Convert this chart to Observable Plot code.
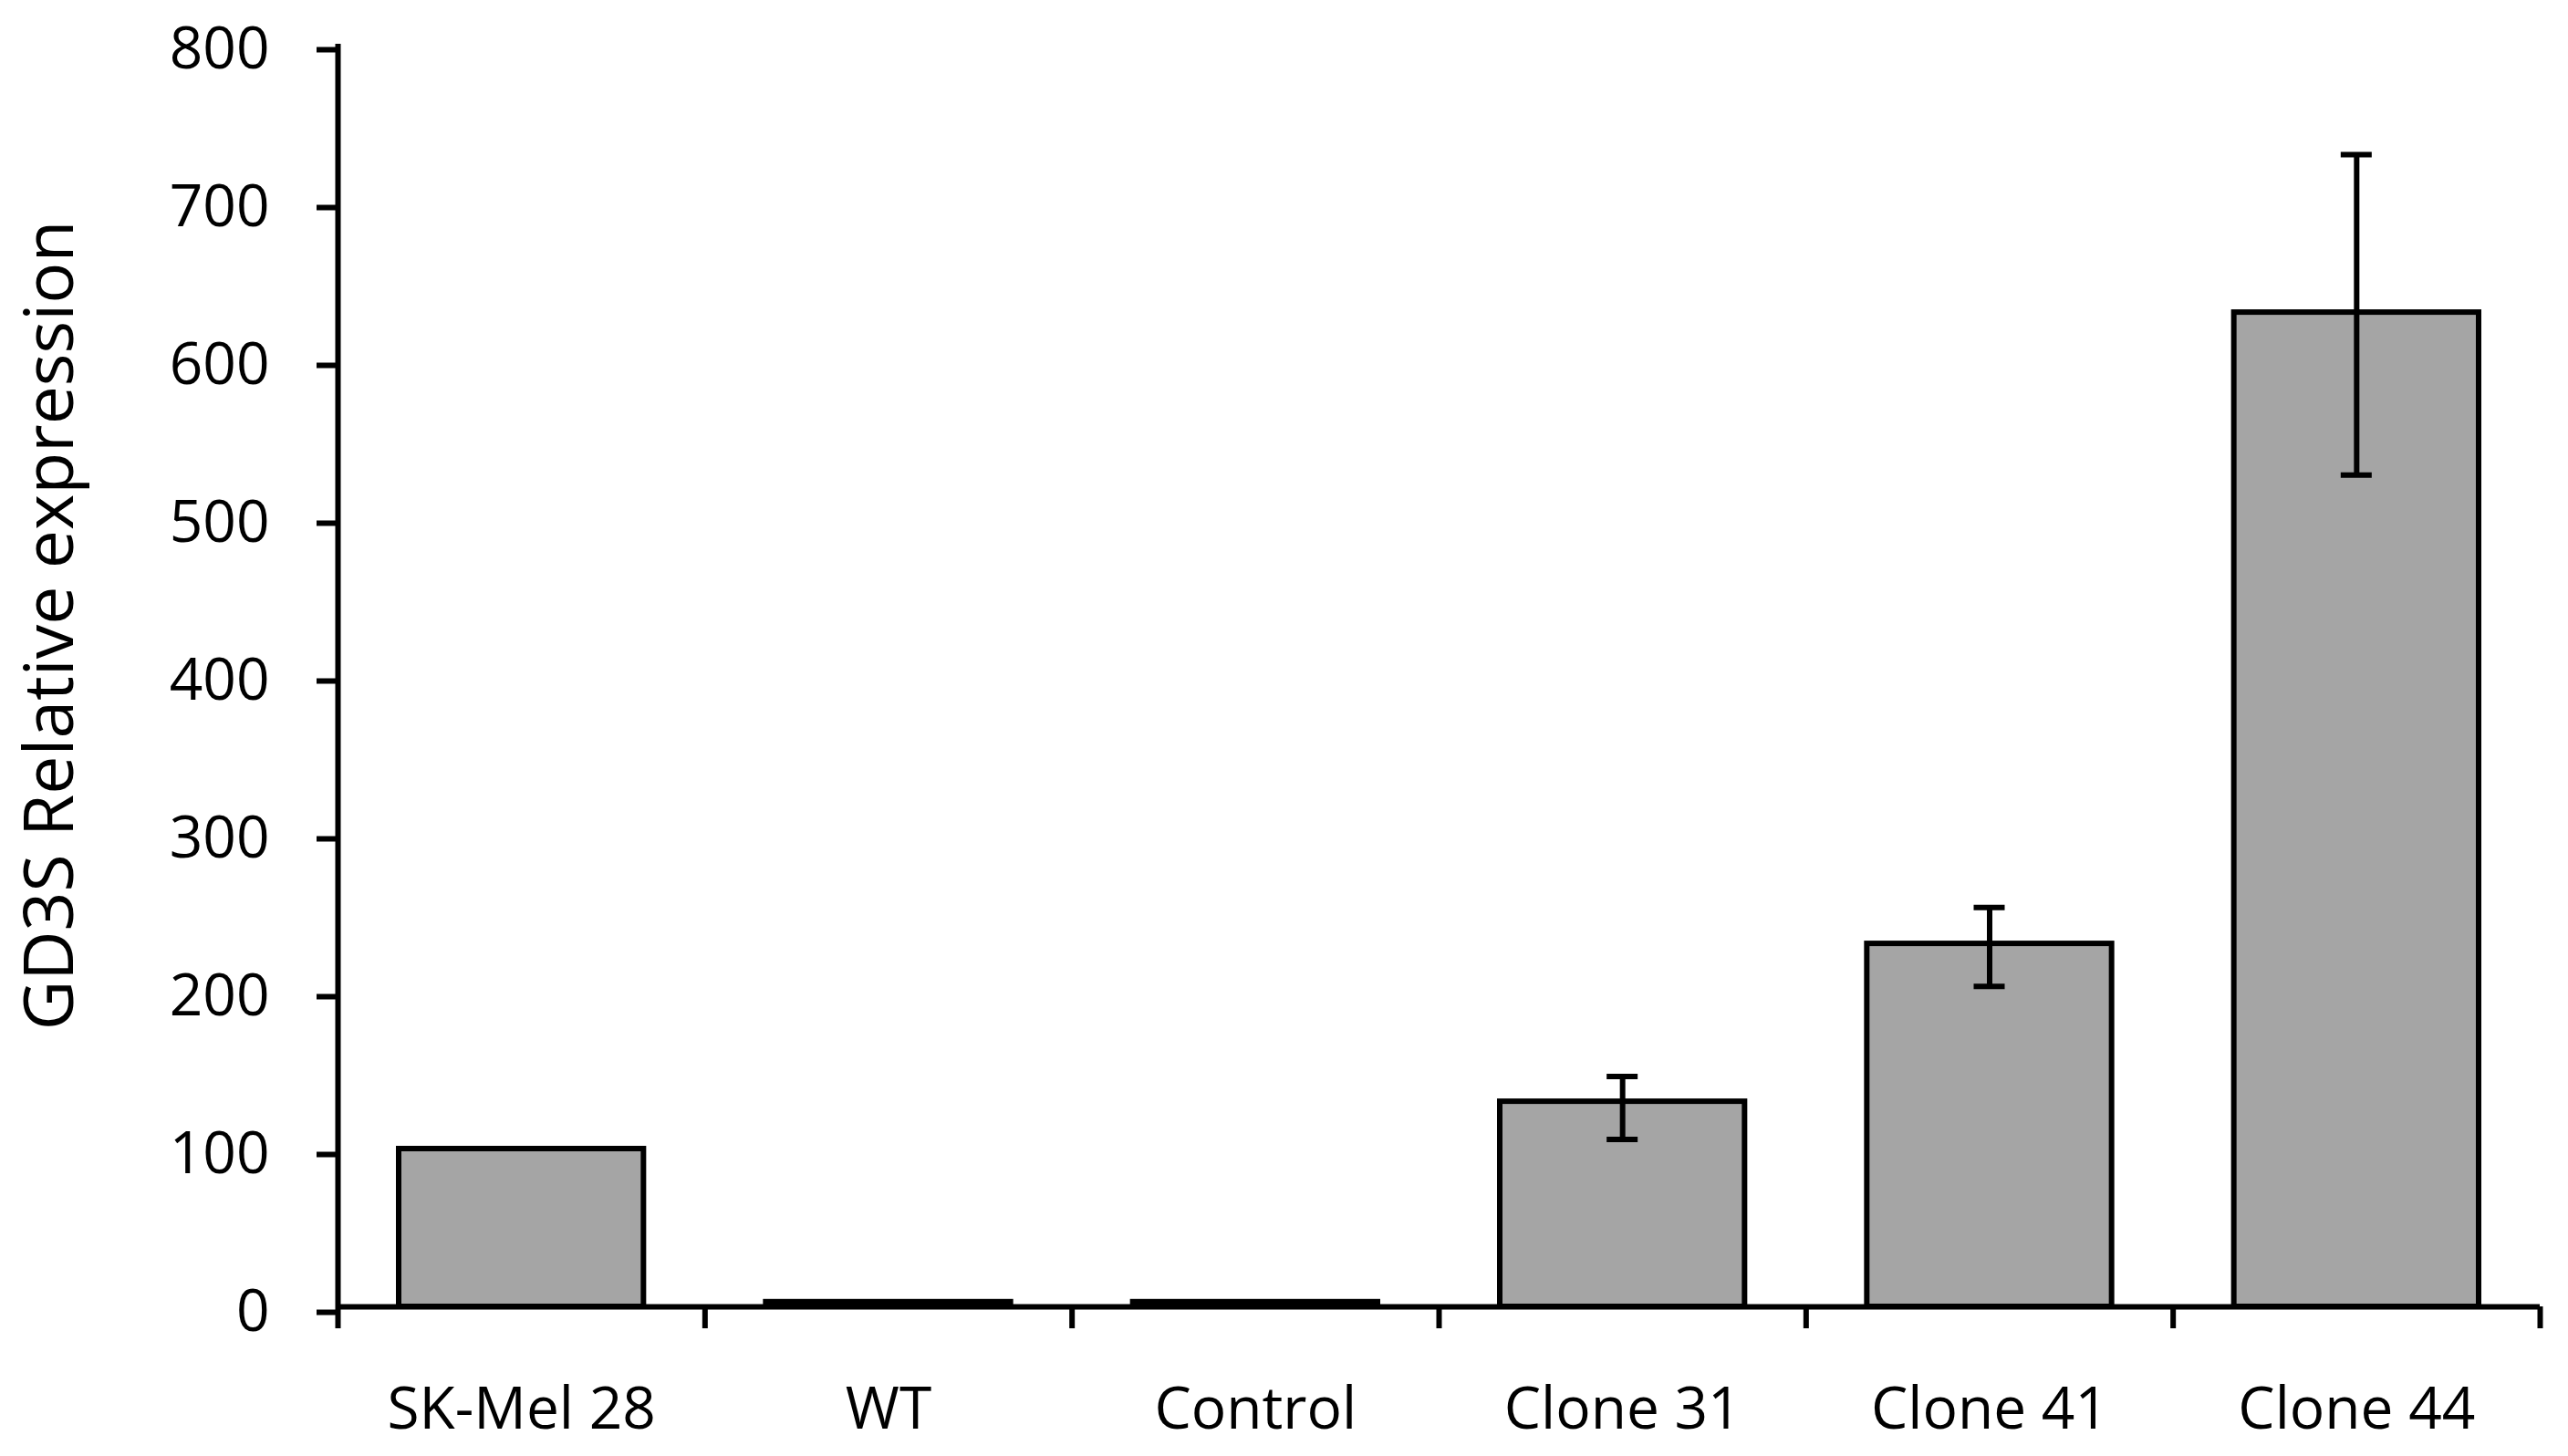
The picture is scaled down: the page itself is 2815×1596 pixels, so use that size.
<!DOCTYPE html>
<html>
<head>
<meta charset="utf-8">
<script src="https://cdn.jsdelivr.net/npm/d3@7"></script>
<script src="https://cdn.jsdelivr.net/npm/@observablehq/plot@0.6"></script>
<style>
  html, body { margin: 0; padding: 0; background: #fff; overflow: hidden; }
</style>
</head>
<body>
<div id="chart"></div>
<script>
// ---- data ----
const categories = ["SK-Mel 28", "WT", "Control", "Clone 31", "Clone 41", "Clone 44"];
const values     = [100, 3, 3, 130, 230, 630];
const errLow     = [null, null, null, 106, 203, 527];
const errHigh    = [null, null, null, 146, 253, 730];
const yTicks     = [0, 100, 200, 300, 400, 500, 600, 700, 800];
const yLabel     = "GD3S Relative expression";

const table = categories.map((c, i) => ({cat: c, i, value: values[i], lo: errLow[i], hi: errHigh[i]}));
const errRows = table.filter(d => d.lo != null);

const chart = Plot.plot({
  width: 2815,
  height: 1596,
  marginLeft: 370,
  marginRight: 31,
  marginTop: 48,
  marginBottom: 164,
  style: {fontFamily: "'Open Sans', sans-serif", fontSize: "64px", color: "black", background: "white"},
  x: {domain: [0, categories.length]},
  y: {domain: [0, 800]},
  marks: [
    Plot.rect(table, {
      x1: d => d.i, x2: d => d.i + 1, y1: 0, y2: "value",
      insetLeft: 67, insetRight: 67,
      fill: "#a5a5a5", stroke: "black", strokeWidth: 6
    }),
    Plot.ruleX([0], {y1: 0, y2: 800, stroke: "black", strokeWidth: 6}),
    Plot.ruleY([0], {stroke: "black", strokeWidth: 6}),
    Plot.axisY(yTicks, {tickSize: 23, tickPadding: 52, strokeWidth: 6, label: null, dy: 6}),
    Plot.axisX(d3.range(0, categories.length + 1), {tickSize: 24, strokeWidth: 6, tickFormat: () => "", label: null}),
    Plot.axisX(categories.map((c, i) => i + 0.5), {tickSize: 0, tickPadding: 88, tickFormat: v => categories[Math.floor(v)], label: null}),
    // error bars
    Plot.ruleX(errRows, {x: d => d.i + 0.5, y1: "lo", y2: "hi", stroke: "black", strokeWidth: 6}),
    Plot.ruleY(errRows, {x1: d => d.i + 0.5, x2: d => d.i + 0.5, y: "hi", insetLeft: -17, insetRight: -17, stroke: "black", strokeWidth: 6}),
    Plot.ruleY(errRows, {x1: d => d.i + 0.5, x2: d => d.i + 0.5, y: "lo", insetLeft: -17, insetRight: -17, stroke: "black", strokeWidth: 6}),
    // y-axis title
    Plot.text([yLabel], {
      text: d => d, frameAnchor: "left", rotate: -90, lineAnchor: "top", textAnchor: "middle",
      dx: -344, dy: -55, fontSize: 75, fill: "black"
    })
  ]
});
document.getElementById("chart").appendChild(chart);
</script>
</body>
</html>
